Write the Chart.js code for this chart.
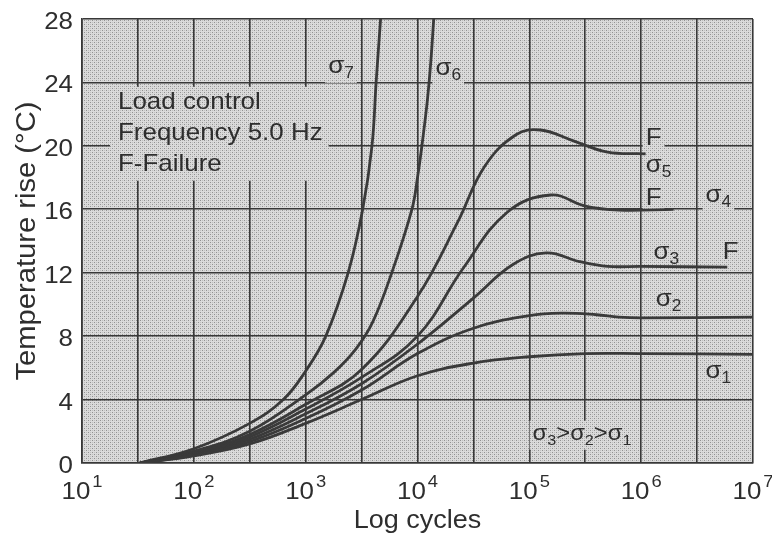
<!DOCTYPE html>
<html lang="en">
<head>
<meta charset="UTF-8">
<title>Temperature rise vs log cycles</title>
<script src="https://cdn.jsdelivr.net/npm/chart.js"></script>
<style>
  html, body { margin: 0; padding: 0; background: #fff; }
  #wrap { width: 772px; height: 539px; }
</style>
</head>
<body>
<div id="wrap"><canvas id="chart"></canvas></div>
<script>
// axis values
const xGridLines = [10, 31.6, 100, 316, 1000, 3162, 1e4, 31623, 1e5, 316228, 1e6, 3162278, 1e7];
const xDecades = [10, 100, 1000, 1e4, 1e5, 1e6, 1e7];
const xExponents = ['1', '2', '3', '4', '5', '6', '7'];
const yTicks = [0, 4, 8, 12, 16, 20, 24, 28];

// curves, [cycles, temperature rise]
const sigma1 = [[33,0],[100,0.45],[316,1.2],[1000,2.5],[3162,4.0],[10000,5.5],[31623,6.3],[100000,6.7],[316228,6.9],[1000000,6.9],[10000000,6.85]];
const sigma2 = [[33,0],[100,0.5],[316,1.35],[1000,2.8],[3162,4.6],[10000,6.9],[31623,8.5],[100000,9.3],[199526,9.45],[398107,9.35],[630957,9.2],[1000000,9.15],[10000000,9.2]];
const sigma3 = [[33,0],[100,0.55],[316,1.5],[1000,3.1],[3162,5.0],[10000,7.5],[31623,10.4],[70795,12.5],[141254,13.25],[281838,12.7],[501187,12.4],[1000000,12.4],[5888437,12.35]];
const sigma4 = [[33,0],[100,0.6],[316,1.65],[1000,3.4],[3162,5.4],[10000,8.0],[25704,12.3],[63096,15.8],[154882,16.9],[316228,16.2],[630957,15.95],[1949845,16.0]];
const sigma5 = [[33,0],[100,0.65],[316,1.8],[1000,3.7],[3162,5.9],[10000,10.5],[22909,15.2],[39811,18.7],[75858,20.7],[125893,21.0],[251189,20.3],[501187,19.6],[1096478,19.5]];
const sigma6 = [[33,0],[100,0.75],[316,2.0],[1000,4.3],[1778,5.7],[2818,7.2],[3981,8.9],[5888,12.0],[8913,16.0],[10000,18.0],[11220,20.6],[12303,23.0],[13183,25.4],[13964,28.0]];
const sigma7 = [[33,0],[100,0.9],[316,2.5],[631,4.0],[1000,5.8],[1514,8.0],[2399,12.0],[3236,16.0],[3917,20.0],[4266,24.0],[4677,28.0]];

// text inside the plot, anchored at [cycles, temperature] (left edge, baseline)
const noteLines = ['Load control', 'Frequency 5.0 Hz', 'F-Failure'];
const noteAnchor = [21, 22.34];
const curveLabels = [
  { parts: [['σ', 0], ['7', 1]], at: [1592, 24.6] },
  { parts: [['σ', 0], ['6', 1]], at: [14454, 24.47] },
  { parts: [['F', 0]], at: [1096478, 20.03] },
  { parts: [['σ', 0], ['5', 1]], at: [1096478, 18.34] },
  { parts: [['F', 0]], at: [1096478, 16.28] },
  { parts: [['σ', 0], ['4', 1]], at: [3770000, 16.47] },
  { parts: [['σ', 0], ['3', 1]], at: [1290000, 12.84] },
  { parts: [['F', 0]], at: [5370000, 12.84] },
  { parts: [['σ', 0], ['2', 1]], at: [1350000, 9.9] },
  { parts: [['σ', 0], ['1', 1]], at: [3770000, 5.34] },
  { parts: [['σ', 0], ['3', 1], ['>', 0], ['σ', 0], ['2', 1], ['>', 0], ['σ', 0], ['1', 1]], at: [107000, 1.47], small: true }
];

const FONT = '"Liberation Sans", Arial, sans-serif';
const INK = '#2e2e2e';
const SX = 1.08; // scanned text is a little wider than the font

let bgPattern = null;
function pattern(ctx) {
  if (bgPattern) return bgPattern;
  const c = document.createElement('canvas');
  c.width = 4; c.height = 4;
  const p = c.getContext('2d');
  p.fillStyle = '#dbdbdb'; p.fillRect(0, 0, 4, 4);
  p.fillStyle = '#929292'; p.fillRect(0, 0, 1, 1); p.fillRect(2, 2, 1, 1);
  p.fillStyle = '#c0c0c0'; p.fillRect(2, 0, 1, 1); p.fillRect(0, 2, 1, 1);
  bgPattern = ctx.createPattern(c, 'repeat');
  return bgPattern;
}

// draws (or only measures) a run of normal + subscript pieces, returns width
function richText(ctx, parts, x, y, small, draw) {
  const big = small ? 22 : 24, sub = small ? 15 : 16;
  let w = 0;
  ctx.save();
  ctx.fillStyle = INK;
  ctx.textBaseline = 'alphabetic';
  ctx.textAlign = 'left';
  for (const [s, isSub] of parts) {
    ctx.font = (isSub ? sub : big) + 'px ' + FONT;
    if (draw) {
      ctx.save();
      ctx.translate(x + w, y + (isSub ? 5 : 0));
      ctx.scale(SX, 1);
      ctx.fillText(s, 0, 0);
      ctx.restore();
    }
    w += ctx.measureText(s).width * SX;
  }
  ctx.restore();
  return w;
}

function plainText(ctx, s, x, y, size, align, draw) {
  ctx.save();
  ctx.font = size + 'px ' + FONT;
  ctx.fillStyle = INK;
  ctx.textBaseline = 'alphabetic';
  const w = ctx.measureText(s).width * SX;
  if (draw) {
    let left = x;
    if (align === 'center') left = x - w / 2;
    if (align === 'right') left = x - w;
    ctx.translate(left, y);
    ctx.scale(SX, 1);
    ctx.fillText(s, 0, 0);
  }
  ctx.restore();
  return w;
}

const paperPlugin = {
  id: 'paper',
  beforeDraw(chart) {
    const { ctx, chartArea: a } = chart;
    ctx.save();
    ctx.fillStyle = '#fff';
    ctx.fillRect(0, 0, chart.width, chart.height);
    ctx.fillStyle = pattern(ctx);
    ctx.fillRect(a.left, a.top, a.right - a.left, a.bottom - a.top);
    ctx.restore();
  },
  // the labels sit on small patches where the grid is left out
  beforeDatasetsDraw(chart) {
    const { ctx, scales: { x, y } } = chart;
    ctx.save();
    ctx.fillStyle = pattern(ctx);
    const nx = x.getPixelForValue(noteAnchor[0]);
    const ny = y.getPixelForValue(noteAnchor[1]);
    let nw = 0;
    noteLines.forEach(s => { nw = Math.max(nw, plainText(ctx, s, 0, 0, 24, 'left', false)); });
    ctx.fillRect(nx - 8, ny - 22, nw + 14, 31 * (noteLines.length - 1) + 32);
    curveLabels.forEach(l => {
      const px = x.getPixelForValue(l.at[0]);
      const py = y.getPixelForValue(l.at[1]);
      const w = richText(ctx, l.parts, px, py, l.small, false);
      ctx.fillRect(px - 3, py - 19, w + 6, 29);
    });
    ctx.restore();
  },
  afterDatasetsDraw(chart) {
    const { ctx, scales: { x, y } } = chart;
    const nx = x.getPixelForValue(noteAnchor[0]);
    const ny = y.getPixelForValue(noteAnchor[1]);
    noteLines.forEach((s, i) => plainText(ctx, s, nx, ny + 31 * i, 24, 'left', true));
    curveLabels.forEach(l => {
      richText(ctx, l.parts, x.getPixelForValue(l.at[0]), y.getPixelForValue(l.at[1]), l.small, true);
    });
  },
  afterDraw(chart) {
    const { ctx, scales: { x, y }, chartArea: a } = chart;
    // y tick labels
    yTicks.forEach(v => {
      plainText(ctx, String(v), a.left - 9, y.getPixelForValue(v) + 10, 24, 'right', true);
    });
    // x tick labels: 10 with exponent
    xDecades.forEach((v, i) => {
      const px = x.getPixelForValue(v);
      const w1 = plainText(ctx, '10', 0, 0, 24, 'left', false);
      const w2 = plainText(ctx, xExponents[i], 0, 0, 17, 'left', false);
      const left = px - (w1 + w2 + 2) / 2;
      plainText(ctx, '10', left, a.bottom + 36, 24, 'left', true);
      plainText(ctx, xExponents[i], left + w1 + 2, a.bottom + 24, 17, 'left', true);
    });
    // axis titles
    plainText(ctx, 'Log cycles', (a.left + a.right) / 2, a.bottom + 65, 25, 'center', true);
    ctx.save();
    ctx.translate(35, (a.top + a.bottom) / 2);
    ctx.rotate(-Math.PI / 2);
    plainText(ctx, 'Temperature rise (°C)', 0, 0, 27, 'center', true);
    ctx.restore();
  }
};

const series = [sigma1, sigma2, sigma3, sigma4, sigma5, sigma6, sigma7];
const names = ['σ1', 'σ2', 'σ3', 'σ4', 'σ5', 'σ6', 'σ7'];

new Chart(document.getElementById('chart'), {
  type: 'scatter',
  data: {
    datasets: series.map((s, i) => ({
      label: names[i],
      data: s.map(p => ({ x: p[0], y: p[1] })),
      showLine: true,
      borderColor: '#3a3a3a',
      borderWidth: 2.8,
      pointRadius: 0,
      tension: 0.4
    }))
  },
  options: {
    responsive: true,
    maintainAspectRatio: false,
    animation: false,
    layout: { padding: { top: 19, right: 19, left: 0, bottom: 0 } },
    plugins: { legend: { display: false }, tooltip: { enabled: false } },
    scales: {
      x: {
        type: 'logarithmic',
        min: 10,
        max: 1e7,
        afterBuildTicks(scale) { scale.ticks = xGridLines.map(v => ({ value: v })); },
        afterFit(scale) { scale.height = 76; },
        ticks: { display: false },
        grid: { color: '#383838', lineWidth: 1.6, drawTicks: false },
        border: { display: true, color: '#383838', width: 1.6 }
      },
      y: {
        min: 0,
        max: 28,
        afterBuildTicks(scale) { scale.ticks = yTicks.map(v => ({ value: v })); },
        afterFit(scale) { scale.width = 82; },
        ticks: { display: false },
        grid: { color: '#383838', lineWidth: 1.6, drawTicks: false },
        border: { display: true, color: '#383838', width: 1.6 }
      }
    }
  },
  plugins: [paperPlugin]
});
</script>
</body>
</html>
